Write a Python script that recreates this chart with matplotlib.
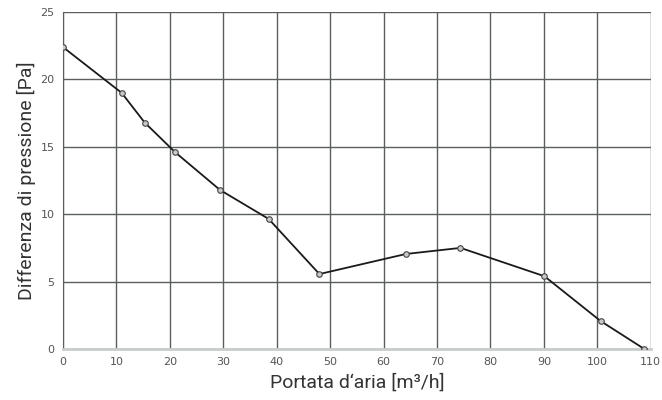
import matplotlib
matplotlib.use("Agg")
import matplotlib.pyplot as plt

flow = [0, 11, 15.3, 21, 29.4, 38.5, 48, 64.2, 74.4, 90.1, 100.6, 108.8]
pressure = [22.4, 19.0, 16.8, 14.6, 11.8, 9.65, 5.56, 7.05, 7.5, 5.4, 2.08, 0.0]
xticks = [0, 10, 20, 30, 40, 50, 60, 70, 80, 90, 100, 110]
yticks = [0, 5, 10, 15, 20, 25]

label_font = "Roboto"

fig = plt.figure(figsize=(6.62, 4.0), dpi=100)
ax = fig.add_axes([0.095, 0.1275, 0.888, 0.8425])
ax.plot(flow, pressure, color="#1a1a1a", lw=1.3, marker="o", ms=4,
        mfc="#c8c8c8", mec="#444444", mew=0.8, zorder=3)
ax.set_xlim(0, 110)
ax.set_ylim(0, 25)
ax.set_xticks(xticks)
ax.set_yticks(yticks)
ax.grid(True, color="#5a5f5e", lw=1.0)
for s in ["top", "right"]:
    ax.spines[s].set_visible(False)
ax.spines["left"].set_color("#5a5f5e")
ax.spines["bottom"].set_color("#c8cccc")
ax.spines["bottom"].set_linewidth(2)
ax.tick_params(length=0, labelsize=8, labelcolor="#555555", pad=6)
ax.set_xlabel("Portata d\u2018aria [m³/h]", fontsize=14, color="#333333",
              family=label_font, labelpad=4)
ax.set_ylabel("Differenza di pressione [Pa]", fontsize=14, color="#333333",
              family=label_font, labelpad=3)
fig.savefig("out.png", dpi=100)
